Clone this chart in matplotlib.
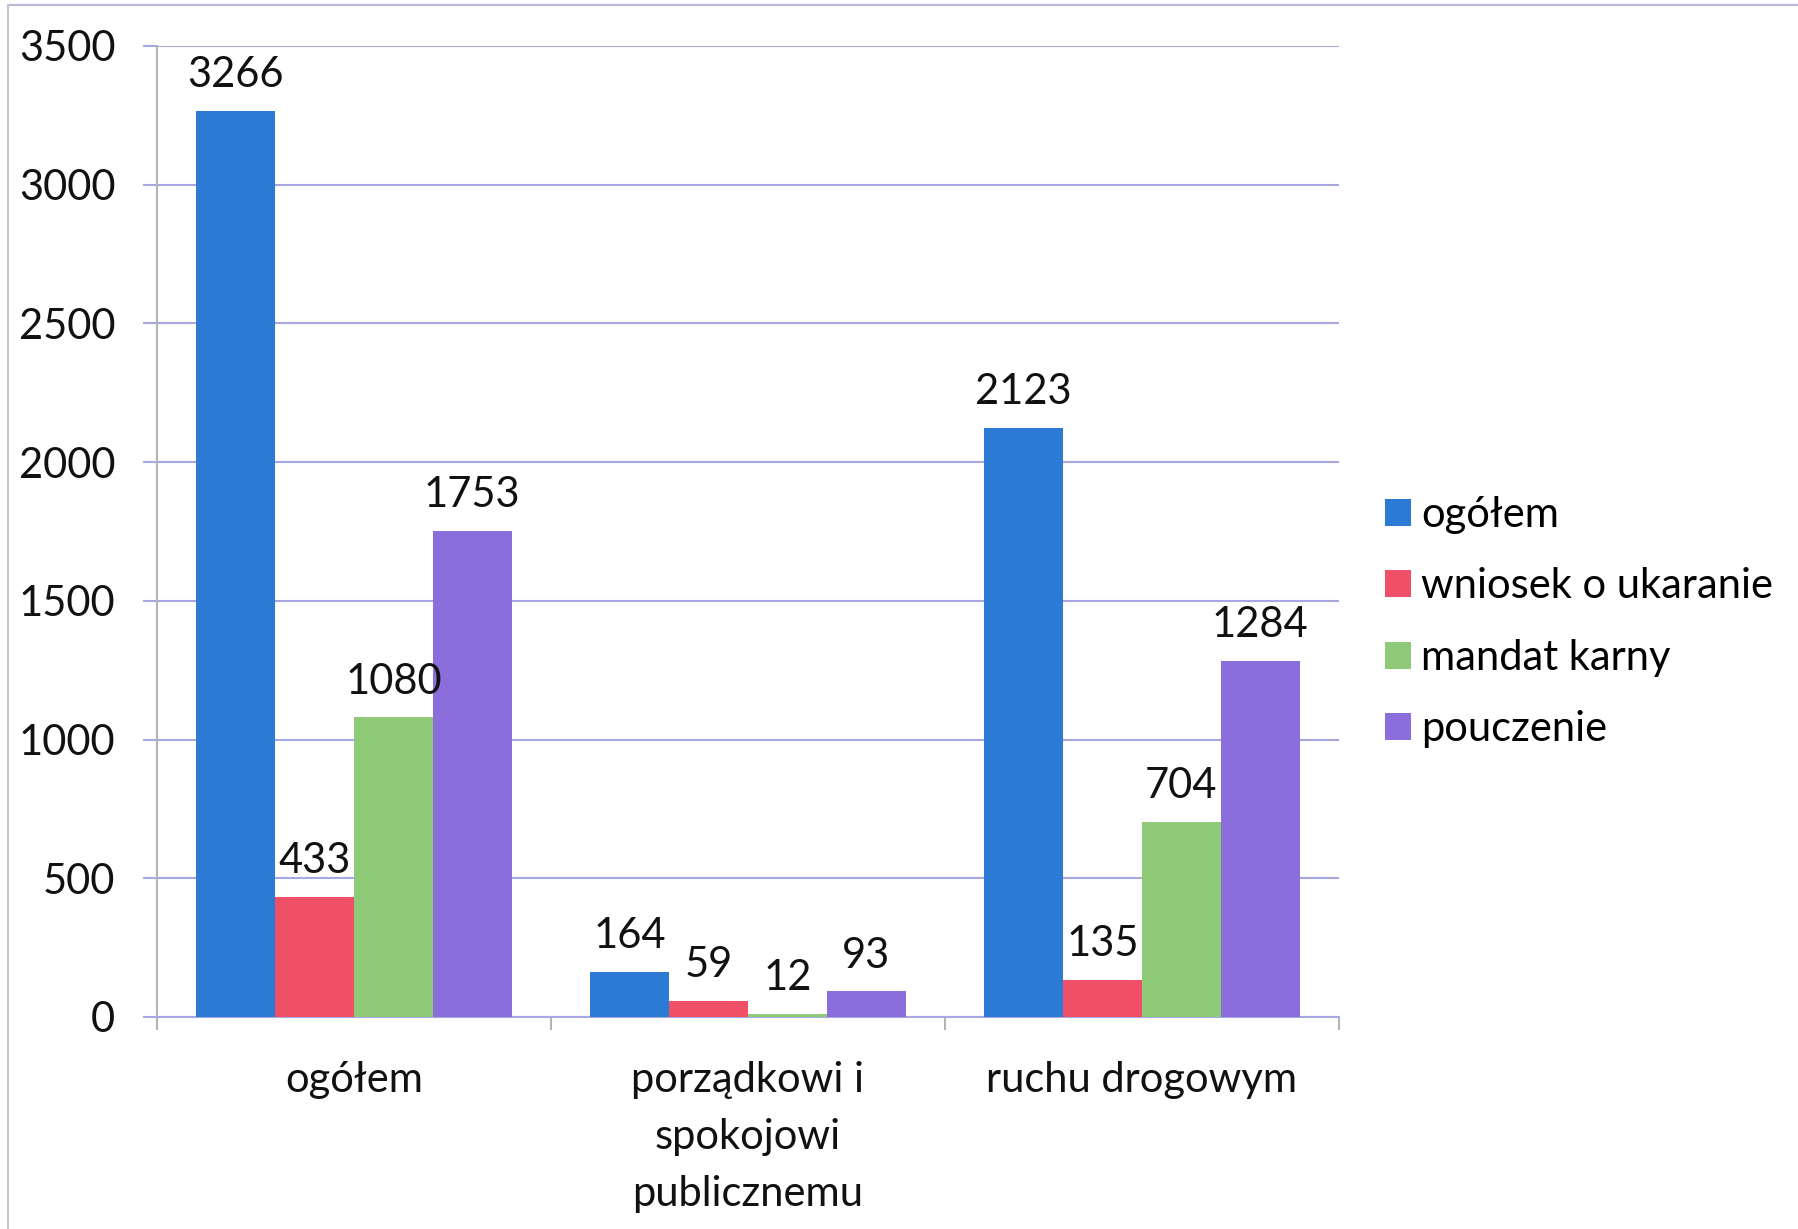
import numpy as np
import matplotlib.pyplot as plt
from matplotlib.lines import Line2D

plt.rcParams['font.family'] = ['Lato', 'DejaVu Sans']

categories = ["ogółem", "porządkowi i\nspokojowi\npublicznemu", "ruchu drogowym"]
series = ["ogółem", "wniosek o ukaranie", "mandat karny", "pouczenie"]
ogolem = [3266, 164, 2123]
wniosek = [433, 59, 135]
mandat = [1080, 12, 704]
pouczenie = [1753, 93, 1284]
yticks = [0, 500, 1000, 1500, 2000, 2500, 3000, 3500]

cols = ["#2b7bd5", "#ef5068", "#8fca78", "#8b6ddb"]
grid_col = "#a8a8e0"
axis_col = "#b4b4b4"
fs = 30

fig = plt.figure(figsize=(17.99, 12.29), dpi=100)
ax = fig.add_axes([157/1799, 1 - 1017/1229, (1339-157)/1799, (1017-46)/1229])

x = np.arange(len(categories))
w = 0.2
data = [ogolem, wniosek, mandat, pouczenie]
for i, (vals, name) in enumerate(zip(data, series)):
    pos = x + (i - 1.5) * w
    ax.bar(pos, vals, width=w, color=cols[i], label=name, zorder=3)
    for p, v in zip(pos, vals):
        ax.annotate(str(v), (p, v), xytext=(0, 17), textcoords="offset points",
                    ha="center", va="baseline", fontsize=fs, color="#111111", zorder=4)

ax.set_xlim(-0.5, 2.5)
ax.set_ylim(0, 3500)
ax.set_yticks(yticks)
ax.set_yticklabels([str(t) for t in yticks])
ax.yaxis.grid(True, color=grid_col, linewidth=1.5, zorder=0)
ax.tick_params(axis="y", length=10, width=1.5, color=grid_col, pad=20,
               labelsize=fs, labelcolor="#111111")

ax.set_xticks(x)
ax.set_xticklabels(categories, linespacing=1.6)
ax.set_xticks([-0.5, 0.5, 1.5, 2.5], minor=True)
ax.tick_params(axis="x", which="major", length=0, pad=32, labelsize=fs, labelcolor="#111111")
ax.tick_params(axis="x", which="minor", length=9.5, width=1.5, color=axis_col)

for s in ["top", "right"]:
    ax.spines[s].set_visible(False)
ax.spines["left"].set_color(axis_col)
ax.spines["left"].set_linewidth(1.5)
ax.spines["bottom"].set_color(grid_col)
ax.spines["bottom"].set_linewidth(1.5)

leg = ax.legend(loc="center left", bbox_to_anchor=(1385/1799, 1 - 622/1229),
                bbox_transform=fig.transFigure, frameon=False, fontsize=fs,
                borderpad=0, handlelength=0.62, handleheight=0.62,
                handletextpad=0.24, labelspacing=0.80, borderaxespad=0)

# chart area frame (top and left edges visible in the scan)
fig.add_artist(Line2D([8/1799, 1], [1 - 5/1229, 1 - 5/1229], transform=fig.transFigure,
                      color="#b8b8dc", linewidth=1.5))
fig.add_artist(Line2D([8/1799, 8/1799], [0, 1 - 5/1229], transform=fig.transFigure,
                      color="#c8c8d4", linewidth=1.5))

fig.savefig("out.png", dpi=100)
